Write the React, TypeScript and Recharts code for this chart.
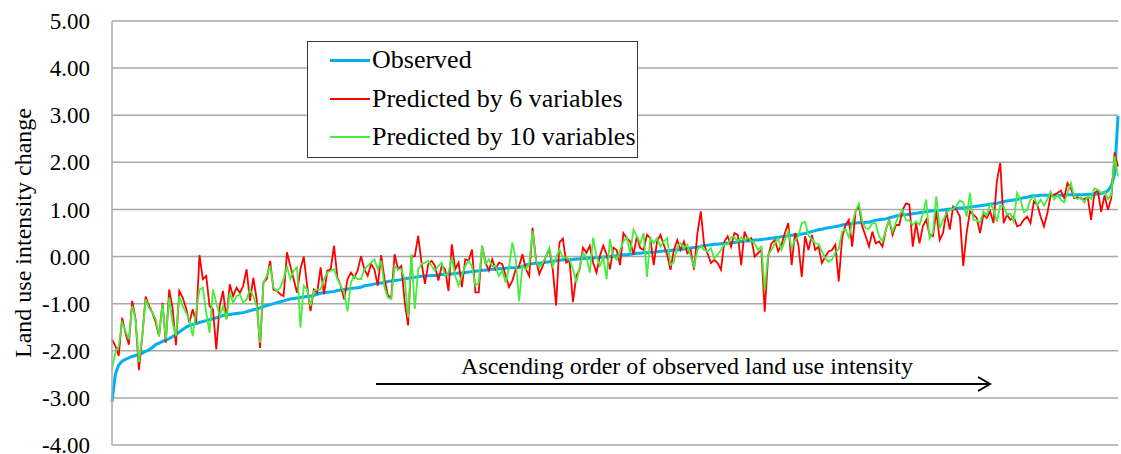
import { LineChart, Line, XAxis, YAxis, CartesianGrid, Legend, Label } from 'recharts'

const observed = [
  -3.08, -2.5, -2.3, -2.22, -2.18, -2.15, -2.12, -2.1, -2.08, -2.05,
  -2.01, -1.98, -1.93, -1.87, -1.84, -1.8, -1.77, -1.74, -1.7, -1.65,
  -1.6, -1.55, -1.5, -1.46, -1.44, -1.42, -1.4, -1.38, -1.36, -1.34,
  -1.32, -1.3, -1.28, -1.25, -1.24, -1.23, -1.22, -1.21, -1.2, -1.19,
  -1.17, -1.15, -1.13, -1.11, -1.09, -1.06, -1.04, -1.02, -1.0, -0.98,
  -0.96, -0.94, -0.92, -0.9, -0.89, -0.88, -0.87, -0.86, -0.85, -0.84,
  -0.82, -0.8, -0.78, -0.77, -0.76, -0.75, -0.74, -0.72, -0.71, -0.7,
  -0.69, -0.68, -0.67, -0.66, -0.65,
  -0.62, -0.61, -0.6, -0.58, -0.57, -0.56, -0.55, -0.53, -0.52, -0.51,
  -0.5, -0.49, -0.47, -0.46, -0.45, -0.44, -0.43, -0.42, -0.41, -0.41,
  -0.4, -0.4, -0.39, -0.38, -0.38, -0.37, -0.37, -0.36, -0.35, -0.35,
  -0.34, -0.33, -0.32, -0.31, -0.3, -0.29, -0.29, -0.28, -0.27, -0.27,
  -0.26, -0.26, -0.25, -0.24, -0.24, -0.23, -0.23, -0.21, -0.18, -0.16,
  -0.15, -0.14, -0.14, -0.13, -0.12, -0.11, -0.1, -0.09, -0.08, -0.07,
  -0.07, -0.06, -0.06, -0.05, -0.05, -0.04, -0.04, -0.03, -0.03, -0.02,
  -0.02, -0.01, -0.01, 0.0, 0.0,
  0.02, 0.03, 0.04, 0.04, 0.05, 0.06, 0.07, 0.07, 0.08, 0.08,
  0.09, 0.09, 0.1, 0.11, 0.12, 0.12, 0.13, 0.14, 0.14, 0.15,
  0.16, 0.17, 0.18, 0.19, 0.2, 0.22, 0.23, 0.24, 0.25, 0.26,
  0.26, 0.27, 0.28, 0.29, 0.3, 0.3, 0.31, 0.32, 0.33, 0.33,
  0.34, 0.35, 0.35, 0.36, 0.37, 0.38, 0.39, 0.4, 0.41, 0.42,
  0.43, 0.44, 0.45, 0.46, 0.47, 0.48, 0.49, 0.51, 0.53, 0.55,
  0.57, 0.58, 0.6, 0.61, 0.62, 0.64, 0.65, 0.67, 0.68, 0.69,
  0.7, 0.71, 0.72, 0.72, 0.73,
  0.73, 0.75, 0.77, 0.78, 0.79, 0.8, 0.82, 0.84, 0.86, 0.87,
  0.88, 0.89, 0.9, 0.91, 0.92, 0.93, 0.94, 0.95, 0.96, 0.97,
  0.97, 0.98, 0.99, 1.0, 1.01, 1.01, 1.02, 1.03, 1.03, 1.04,
  1.05, 1.06, 1.07, 1.08, 1.09, 1.1, 1.11, 1.12, 1.13, 1.15,
  1.17, 1.18, 1.19, 1.2, 1.21, 1.23, 1.25, 1.26, 1.28, 1.29,
  1.29, 1.3, 1.3, 1.3, 1.3, 1.3, 1.3, 1.3, 1.3, 1.31,
  1.31, 1.31, 1.31, 1.31, 1.31, 1.32, 1.32, 1.32, 1.33, 1.34,
  1.36, 1.4, 1.5, 1.75, 2.98,
]

const pred6 = [
  -1.76, -1.9, -2.11, -1.3, -1.62, -1.87, -0.94, -1.33, -2.41, -1.69,
  -0.85, -1.05, -1.19, -1.4, -1.69, -0.98, -1.83, -0.7, -1.09, -1.88,
  -0.73, -0.87, -1.09, -1.4, -1.12, -1.4, 0.03, -0.48, -0.41, -1.05,
  -1.12, -1.97, -1.05, -0.73, -1.33, -0.59, -0.84, -0.66, -0.77, -0.62,
  -0.27, -0.94, -0.45, -0.91, -1.94, -0.55, -0.48, -0.09, -0.7, -0.73,
  -0.8, -0.84, 0.09, -0.2, -0.48, -0.77, -0.27, 0.0, -0.62, -1.16,
  -0.7, -0.77, -0.23, -0.8, -0.3, -0.27, 0.23, -0.45, -0.62, -0.91,
  -0.48, -0.34, -0.45, -0.3, 0.01,
  -0.27, -0.41, -0.16, -0.27, -0.62, 0.03, -0.48, -0.83, -0.87, 0.05,
  -0.27, -0.2, -0.97, -1.46, 0.0, 0.01, 0.44, -0.13, -0.58, -0.16,
  -0.09, -0.2, -0.51, -0.2, -0.27, -0.73, 0.26, -0.27, -0.13, -0.65,
  -0.06, -0.09, 0.15, -0.76, -0.76, 0.23, -0.13, -0.3, -0.06, -0.27,
  -0.13, -0.16, -0.41, -0.65, -0.51, -0.27, -0.2, 0.05, -0.27, -0.41,
  0.61, -0.06, -0.37, -0.2, 0.01, 0.15, -0.27, -1.04, 0.3, 0.38,
  -0.13, -0.09, -0.97, -0.41, -0.27, 0.19, 0.08, 0.23, -0.13, -0.34,
  0.01, 0.23, 0.05, -0.27, 0.19,
  0.14, -0.18, 0.5, 0.39, 0.32, 0.04, 0.43, 0.18, 0.14, 0.46,
  0.39, -0.18, 0.32, 0.46, 0.25, 0.04, -0.28, 0.14, 0.35, 0.14,
  0.32, 0.07, 0.14, -0.28, 0.5, 0.96, 0.25, 0.07, -0.14, -0.07,
  -0.14, -0.28, 0.32, 0.43, 0.21, 0.5, 0.46, -0.18, 0.53, 0.35,
  0.39, 0.0, 0.07, 0.14, -1.17, 0.0, 0.28, 0.35, 0.11, 0.25,
  0.5, 0.71, -0.18, 0.5, 0.25, -0.43, 0.43, 0.14, 0.46, 0.14,
  0.21, -0.14, 0.0, 0.11, 0.14, 0.25, -0.53, 0.39, 0.67, 0.78,
  0.21, 0.96, 1.06, 0.64, 0.43,
  0.21, 0.53, 0.28, 0.32, 0.21, 0.57, 0.78, 0.46, 0.67, 0.67,
  0.99, 1.13, 1.1, 0.21, 0.71, 0.28, 0.64, 0.78, 0.46, 0.43,
  0.96, 0.35, 0.5, 0.96, 0.57, 1.06, 0.99, 0.85, -0.2, 0.5,
  0.96, 0.89, 0.82, 0.5, 0.89, 0.82, 0.96, 0.71, 1.6, 1.99,
  0.71, 0.89, 0.78, 0.85, 0.64, 0.67, 0.78, 0.85, 0.71, 1.17,
  1.1, 0.85, 0.64, 0.92, 1.31, 1.31, 1.35, 1.4, 1.24, 1.56,
  1.45, 1.24, 1.26, 1.23, 1.22, 1.26, 0.78, 1.35, 1.4, 0.95,
  1.3, 0.99, 1.24, 2.21, 1.91,
]

const pred10 = [
  -2.4, -2.04, -1.9, -1.4, -1.58, -1.76, -1.05, -1.33, -2.24, -1.69,
  -0.91, -1.09, -1.19, -1.33, -1.69, -1.01, -1.76, -0.87, -1.4, -1.69,
  -0.84, -1.05, -1.19, -1.33, -1.69, -1.16, -0.7, -0.66, -1.19, -1.62,
  -0.7, -0.98, -1.26, -1.05, -1.33, -0.77, -0.98, -0.84, -0.8, -0.98,
  -0.91, -0.7, -0.84, -1.05, -1.83, -0.55, -0.41, -0.2, -0.66, -0.73,
  -0.66, -0.48, -0.2, -0.48, -0.3, -0.23, -1.51, -0.62, -0.7, -1.05,
  -0.73, -0.7, -0.7, -0.48, -0.34, -0.3, -0.27, -0.48, -0.62, -0.77,
  -1.16, -0.55, -0.41, -0.48, -0.48,
  -0.27, -0.2, -0.13, -0.06, -0.27, -0.09, -0.65, -0.87, -0.9, -0.2,
  -0.27, -0.27, -0.48, -1.29, 0.05, -1.11, -0.27, -0.16, -0.13, -0.09,
  -0.2, -0.3, -0.2, -0.13, -0.41, -0.34, -0.02, -0.41, -0.62, -0.41,
  -0.2, -0.09, -0.2, -0.62, -0.55, 0.23, -0.16, -0.06, -0.2, -0.2,
  -0.41, -0.3, -0.55, -0.23, 0.3, -0.06, -0.94, -0.2, -0.27, -0.16,
  0.54, -0.09, -0.23, -0.13, 0.01, 0.19, -0.2, -0.02, 0.15, -0.02,
  -0.02, -0.06, -0.27, -0.55, -0.23, 0.08, -0.02, -0.34, 0.4, 0.01,
  -0.2, -0.02, -0.48, 0.37, 0.01,
  -0.07, 0.14, 0.32, 0.41, 0.07, 0.57, 0.43, 0.28, 0.5, -0.43,
  0.39, 0.28, 0.39, 0.21, 0.32, 0.39, -0.18, -0.11, 0.21, 0.28,
  0.18, 0.25, 0.0, -0.21, 0.14, 0.23, 0.14, 0.11, 0.18, -0.04,
  0.04, 0.14, 0.27, 0.25, 0.41, 0.41, 0.32, 0.41, 0.34, 0.41,
  0.34, 0.28, 0.14, 0.21, -0.71, 0.04, 0.14, 0.28, 0.39, 0.14,
  0.35, 0.53, 0.18, 0.35, 0.43, 0.71, 0.74, 0.44, 0.37, 0.28,
  0.27, 0.11, -0.04, -0.11, -0.06, 0.09, 0.16, 0.53, 0.58, 0.41,
  0.7, 0.96, 1.13, 0.74, 0.6,
  0.59, 0.71, 0.7, 0.43, 0.32, 0.57, 0.77, 0.53, 0.72, 0.89,
  0.99, 0.77, 0.77, 0.67, 0.75, 0.68, 0.91, 1.21, 0.38, 0.51,
  1.28, 0.6, 0.78, 0.92, 0.99, 1.01, 1.08, 1.19, 1.15, 0.85,
  1.35, 0.78, 0.77, 0.72, 0.96, 0.87, 1.12, 1.01, 0.74, 1.08,
  1.06, 0.89, 0.91, 0.74, 1.35, 1.21, 0.94, 0.99, 1.21, 1.28,
  1.08, 1.21, 1.08, 1.21, 1.38, 1.21, 1.3, 1.21, 1.15, 1.35,
  1.56, 1.26, 1.22, 1.26, 1.15, 1.28, 1.22, 1.45, 1.42, 1.35,
  1.38, 1.22, 1.31, 2.13, 1.7,
]

const yTicks = [-4, -3, -2, -1, 0, 1, 2, 3, 4, 5]
const seriesNames = ['Observed', 'Predicted by 6 variables', 'Predicted by 10 variables']
const seriesColors = ['#00B0F0', '#FF0000', '#44EE3C']
const seriesWidths = [3, 1.8, 1.8]
const legendWidths = [3, 2, 2]

const data = observed.map((v, i) => ({
  rank: i + 1,
  observed: v,
  pred6: pred6[i],
  pred10: pred10[i],
}))

const FONT = '"Liberation Serif", "Times New Roman", serif'

function LegendBox() {
  return (
    <div style={{
      width: 331, height: 117, boxSizing: 'border-box', background: '#fff',
      border: '1.5px solid #3a3a3a', position: 'relative',
      fontFamily: FONT, fontSize: 26, color: '#000',
    }}>
      {seriesNames.map((name, k) => (
        <div key={name} style={{
          position: 'absolute', left: 22, top: 3 + k * 38.5, height: 30,
          display: 'flex', alignItems: 'center', whiteSpace: 'nowrap', lineHeight: '30px',
        }}>
          <span style={{
            display: 'inline-block', width: 40, height: legendWidths[k],
            background: seriesColors[k], marginRight: 2,
          }} />
          {name}
        </div>
      ))}
    </div>
  )
}

export default function App() {
  return (
    <div style={{ position: 'absolute', left: 0, top: 0, width: 1121, height: 454, background: '#fff' }}>
      <LineChart width={1121} height={454} data={data}
        margin={{ top: 21, right: 3, bottom: 9, left: 0 }}>
        <CartesianGrid vertical={false} stroke="#a8a8a8" strokeWidth={1.5} />
        <XAxis dataKey="rank" hide />
        <YAxis
          type="number"
          domain={[-4, 5]}
          ticks={yTicks}
          interval={0}
          width={112}
          tickSize={0}
          tickMargin={22}
          tickFormatter={(v: number) => v.toFixed(2)}
          tick={{ fill: '#000', fontSize: 23, fontFamily: FONT }}
          axisLine={{ stroke: '#a8a8a8', strokeWidth: 1.5 }}
          allowDataOverflow
        >
          <Label
            value="Land use intensity change"
            angle={-90}
            position="insideLeft"
            offset={22}
            style={{ textAnchor: 'middle', fontSize: 24, fontFamily: FONT, fill: '#000' }}
          />
        </YAxis>
        <Legend
          layout="horizontal"
          verticalAlign="middle"
          align="center"
          content={<LegendBox />}
          wrapperStyle={{ left: 307, top: 41, width: 331 }}
        />
        <Line type="linear" dataKey="observed" name={seriesNames[0]} stroke={seriesColors[0]}
          strokeWidth={seriesWidths[0]} dot={false} activeDot={false} isAnimationActive={false} />
        <Line type="linear" dataKey="pred6" name={seriesNames[1]} stroke={seriesColors[1]}
          strokeWidth={seriesWidths[1]} dot={false} activeDot={false} isAnimationActive={false} />
        <Line type="linear" dataKey="pred10" name={seriesNames[2]} stroke={seriesColors[2]}
          strokeWidth={seriesWidths[2]} dot={false} activeDot={false} isAnimationActive={false} />
      </LineChart>

      {/* annotation under the curves */}
      <svg width={1121} height={454} style={{ position: 'absolute', left: 0, top: 0, pointerEvents: 'none' }}>
        <text x={687} y={374} textAnchor="middle" fontFamily={FONT} fontSize={24} fill="#000">
          Ascending order of observed land use intensity
        </text>
        <line x1={376} y1={384} x2={990} y2={384} stroke="#000" strokeWidth={2} />
        <polyline points="978,377 990,384 978,391" fill="none" stroke="#000" strokeWidth={2} />
      </svg>
    </div>
  )
}
